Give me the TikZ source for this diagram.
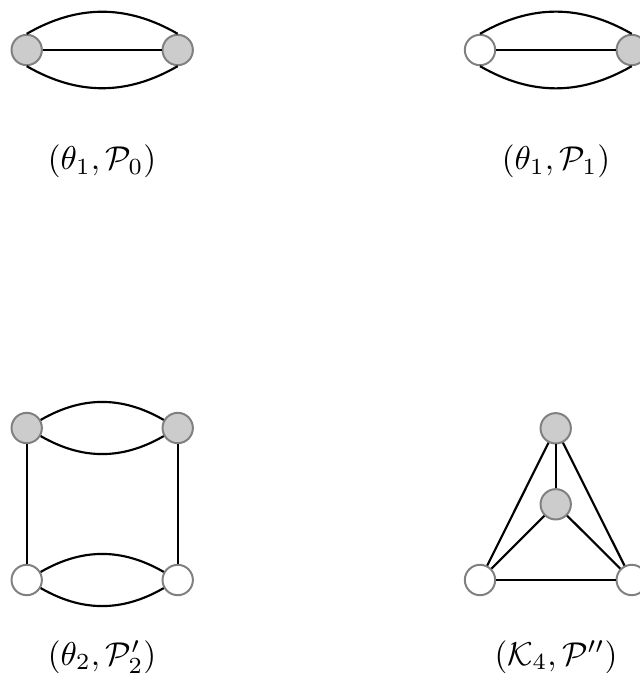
\documentclass[tikz,border=0pt]{standalone}
\usepackage{amsmath}
\begin{document}
\begin{tikzpicture}[x=0.303pt,y=-0.303pt,
  vtx/.style={circle,draw=black!50,line width=0.6pt,minimum size=9.2pt,inner sep=0pt},
  grayv/.style={vtx,fill=black!20},
  whitev/.style={vtx,fill=white},
  edge/.style={line width=0.65pt,black},
  lbl/.style={anchor=base,inner sep=0pt}]
\useasboundingbox (0,0) rectangle (639,673);
% top-left theta_1, P_0
\node[grayv] (a1) at (26.7,50) {};
\node[grayv] (a2) at (177.7,50) {};
\draw[edge] (a1) -- (a2);
\draw[edge] (a1.north) to[bend left=30] (a2.north);
\draw[edge] (a1.south) to[bend right=30] (a2.south);
\node[lbl] (la) at (102,170) {$(\theta_1,\mathcal{P}_0)$};
% top-right theta_1, P_1
\node[whitev] (b1) at (480,50) {};
\node[grayv] (b2) at (631.7,50) {};
\draw[edge] (b1) -- (b2);
\draw[edge] (b1.north) to[bend left=30] (b2.north);
\draw[edge] (b1.south) to[bend right=30] (b2.south);
\node[lbl] (lb) at (556,170) {$(\theta_1,\mathcal{P}_1)$};
% bottom-left theta_2, P'_2
\node[grayv] (c1) at (26.7,428) {};
\node[grayv] (c2) at (177.7,428) {};
\node[whitev] (c3) at (26.7,580) {};
\node[whitev] (c4) at (177.7,580) {};
\draw[edge] (c1) to[bend left=30] (c2);
\draw[edge] (c1) to[bend right=30] (c2);
\draw[edge] (c3) to[bend left=30] (c4);
\draw[edge] (c3) to[bend right=30] (c4);
\draw[edge] (c1) -- (c3);
\draw[edge] (c2) -- (c4);
\node[lbl] (lc) at (102,665) {$(\theta_2,\mathcal{P}'_2)$};
% bottom-right K_4, P''
\node[grayv] (d1) at (555.7,428.3) {};
\node[grayv] (d2) at (555.7,504.3) {};
\node[whitev] (d3) at (480,580) {};
\node[whitev] (d4) at (631.7,580) {};
\draw[edge] (d1) -- (d2);
\draw[edge] (d1) -- (d3);
\draw[edge] (d1) -- (d4);
\draw[edge] (d2) -- (d3);
\draw[edge] (d2) -- (d4);
\draw[edge] (d3) -- (d4);
\node[lbl] (ld) at (556,665) {$(\mathcal{K}_4,\mathcal{P}'')$};
\end{tikzpicture}
\end{document}
